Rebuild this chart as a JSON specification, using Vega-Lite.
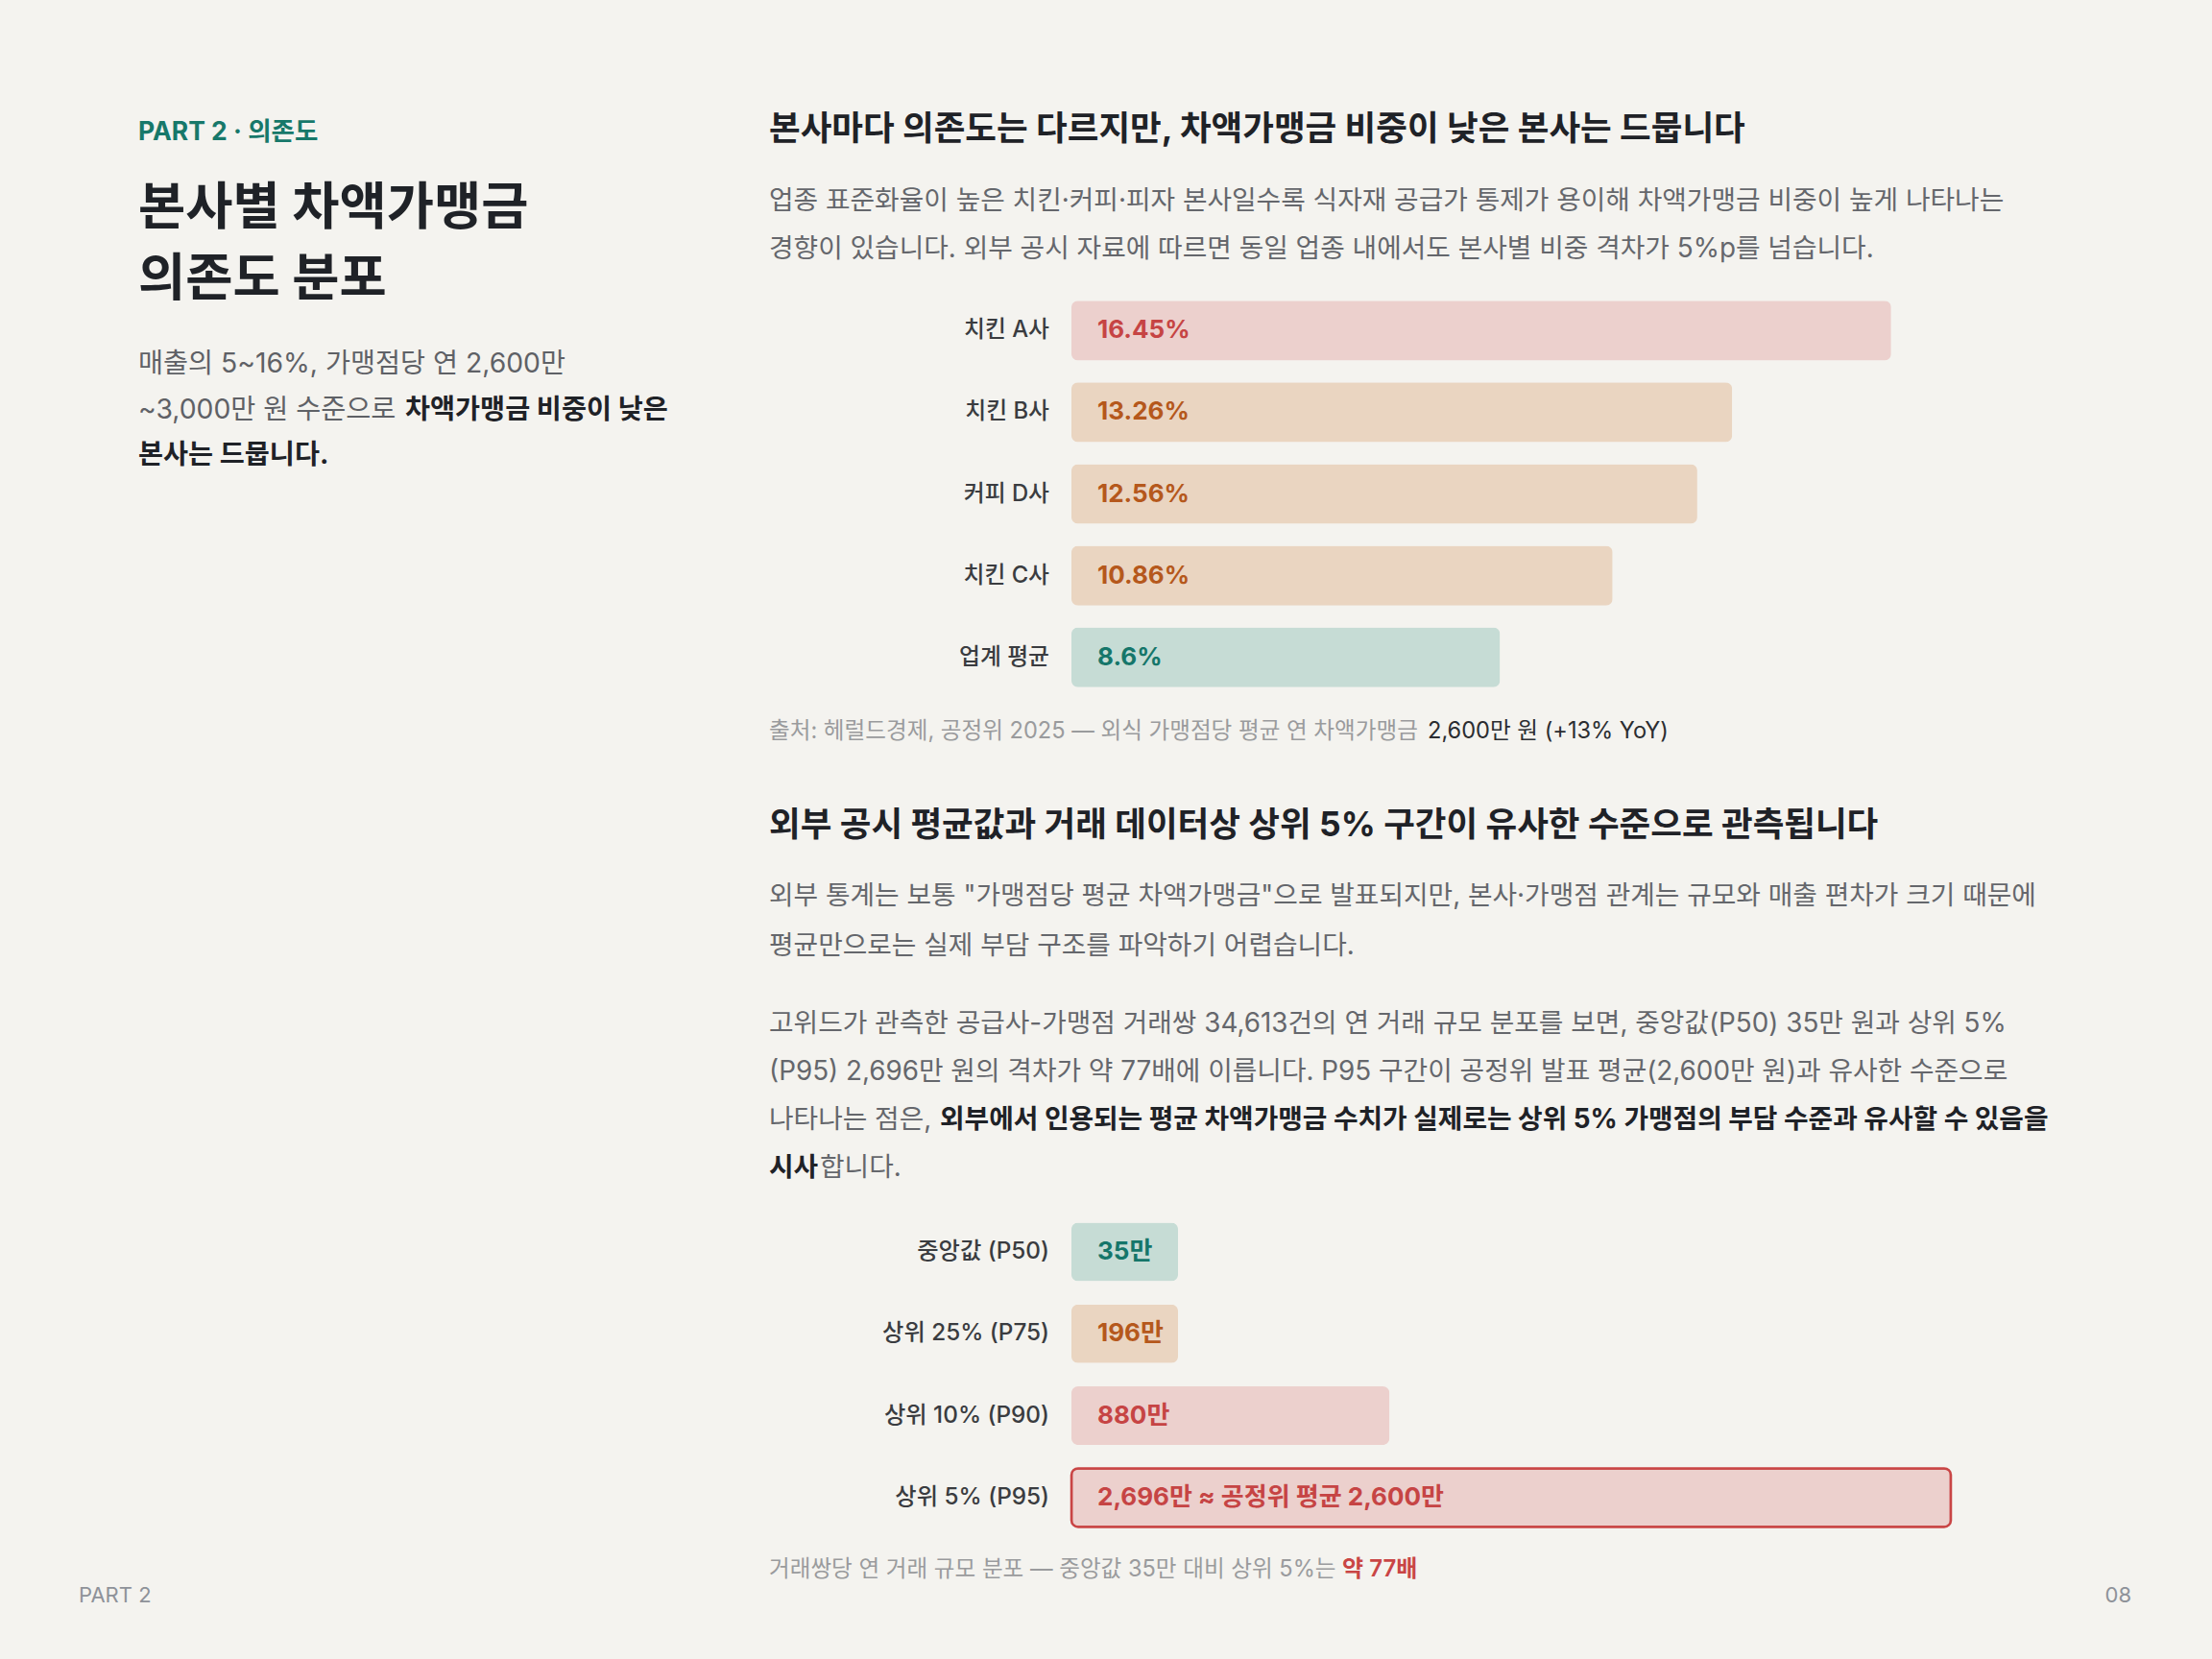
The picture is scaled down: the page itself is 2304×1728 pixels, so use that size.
{
  "$schema": "https://vega.github.io/schema/vega-lite/v6.json",
  "background": "#f4f3ef",
  "padding": 0,
  "spacing": 0,
  "bounds": "flush",
  "config": {"view": {"stroke": null}},
  "datasets": {
    "kicker": [{"line": 1, "text": "PART 2 · 의존도"}],
    "h1": [{"line": 1, "text": "본사마다 의존도는 다르지만, 차액가맹금 비중이 낮은 본사는 드뭅니다"}],
    "title": [{"line": 1, "text": "본사별 차액가맹금"}, {"line": 2, "text": "의존도 분포"}],
    "p1": [
      {"line": 1, "text": "업종 표준화율이 높은 치킨·커피·피자 본사일수록 식자재 공급가 통제가 용이해 차액가맹금 비중이 높게 나타나는"},
      {"line": 2, "text": "경향이 있습니다. 외부 공시 자료에 따르면 동일 업종 내에서도 본사별 비중 격차가 5%p를 넘습니다."}
    ],
    "lead": [
      {"line": 1, "part": "a", "text": "매출의 5~16%, 가맹점당 연 2,600만"},
      {"line": 2, "part": "a", "text": "~3,000만 원 수준으로"},
      {"line": 2, "part": "b", "text": "차액가맹금 비중이 낮은"},
      {"line": 3, "part": "c", "text": "본사는 드뭅니다."}
    ],
    "share": [
      {"name": "치킨 A사", "value": 16.45, "label": "16.45%", "group": "top"},
      {"name": "치킨 B사", "value": 13.26, "label": "13.26%", "group": "mid"},
      {"name": "커피 D사", "value": 12.56, "label": "12.56%", "group": "mid"},
      {"name": "치킨 C사", "value": 10.86, "label": "10.86%", "group": "mid"},
      {"name": "업계 평균", "value": 8.6, "label": "8.6%", "group": "base"}
    ],
    "cap1": [
      {"line": 1, "part": "a", "text": "출처: 헤럴드경제, 공정위 2025 — 외식 가맹점당 평균 연 차액가맹금"},
      {"line": 1, "part": "b", "text": "2,600만 원 (+13% YoY)"}
    ],
    "h2": [{"line": 1, "text": "외부 공시 평균값과 거래 데이터상 상위 5% 구간이 유사한 수준으로 관측됩니다"}],
    "p2": [
      {"line": 1, "text": "외부 통계는 보통 \"가맹점당 평균 차액가맹금\"으로 발표되지만, 본사·가맹점 관계는 규모와 매출 편차가 크기 때문에"},
      {"line": 2, "text": "평균만으로는 실제 부담 구조를 파악하기 어렵습니다."}
    ],
    "p3": [
      {"line": 1, "part": "a", "text": "고위드가 관측한 공급사-가맹점 거래쌍 34,613건의 연 거래 규모 분포를 보면, 중앙값(P50) 35만 원과 상위 5%"},
      {"line": 2, "part": "a", "text": "(P95) 2,696만 원의 격차가 약 77배에 이릅니다. P95 구간이 공정위 발표 평균(2,600만 원)과 유사한 수준으로"},
      {"line": 3, "part": "a", "text": "나타나는 점은,"},
      {"line": 3, "part": "b", "text": "외부에서 인용되는 평균 차액가맹금 수치가 실제로는 상위 5% 가맹점의 부담 수준과 유사할 수 있음을"},
      {"line": 4, "part": "c", "text": "시사"},
      {"line": 4, "part": "d", "text": "합니다."}
    ],
    "dist": [
      {"name": "중앙값 (P50)", "value": 35, "label": "35만", "group": "base"},
      {"name": "상위 25% (P75)", "value": 196, "label": "196만", "group": "mid"},
      {"name": "상위 10% (P90)", "value": 880, "label": "880만", "group": "top"},
      {"name": "상위 5% (P95)", "value": 2696, "label": "2,696만 ≈ 공정위 평균 2,600만", "group": "top"}
    ],
    "cap2": [
      {"line": 1, "part": "a", "text": "거래쌍당 연 거래 규모 분포 — 중앙값 35만 대비 상위 5%는"},
      {"line": 1, "part": "b", "text": "약 77배"}
    ],
    "footer": [{"line": 1, "side": "left", "text": "PART 2"}, {"line": 1, "side": "right", "text": "08"}]
  },
  "vconcat": [
    {
      "width": 2304, "height": 172,
      "resolve": {"scale": {"x": "independent", "y": "independent"}},
      "layer": [
        {
          "data": {"name": "kicker"},
          "mark": {"type": "text", "align": "left", "baseline": "middle", "font": "Inter, 'Noto Sans CJK KR', sans-serif", "fontSize": 26.5, "fontWeight": "bold", "color": "#17786a"},
          "encoding": {
            "text": {"field": "text"},
            "x": {"datum": 0, "type": "quantitative", "axis": null, "scale": {"domain": [0, 1], "range": [144, 760]}},
            "y": {"field": "line", "type": "ordinal", "axis": null, "scale": {"type": "point", "padding": 0.5, "align": 0.802}}
          }
        },
        {
          "data": {"name": "h1"},
          "mark": {"type": "text", "align": "left", "baseline": "middle", "font": "Inter, 'Noto Sans CJK KR', sans-serif", "fontSize": 35.5, "fontWeight": "bold", "color": "#1f2227"},
          "encoding": {
            "text": {"field": "text"},
            "x": {"datum": 0, "type": "quantitative", "axis": null, "scale": {"domain": [0, 1], "range": [801, 2200]}},
            "y": {"field": "line", "type": "ordinal", "axis": null, "scale": {"type": "point", "padding": 0.5, "align": 0.785}}
          }
        }
      ]
    },
    {
      "width": 2304, "height": 120,
      "resolve": {"scale": {"x": "independent", "y": "independent"}},
      "layer": [
        {
          "data": {"name": "title"},
          "mark": {"type": "text", "align": "left", "baseline": "middle", "font": "Inter, 'Noto Sans CJK KR', sans-serif", "fontSize": 53.5, "fontWeight": "bold", "color": "#1f2227"},
          "encoding": {
            "text": {"field": "text"},
            "x": {"datum": 0, "type": "quantitative", "axis": null, "scale": {"domain": [0, 1], "range": [144, 760]}},
            "y": {"field": "line", "type": "quantitative", "axis": null, "scale": {"domain": [1, 2], "range": [46, 120]}}
          }
        },
        {
          "data": {"name": "p1"},
          "mark": {"type": "text", "align": "left", "baseline": "middle", "font": "Inter, 'Noto Sans CJK KR', sans-serif", "fontSize": 27.8, "color": "#65676c"},
          "encoding": {
            "text": {"field": "text"},
            "x": {"datum": 0, "type": "quantitative", "axis": null, "scale": {"domain": [0, 1], "range": [801, 2200]}},
            "y": {"field": "line", "type": "ordinal", "axis": null, "scale": {"type": "point", "padding": 0.7, "align": 0.543}}
          }
        }
      ]
    },
    {
      "width": 2304, "height": 445,
      "resolve": {"scale": {"x": "independent", "y": "independent"}},
      "layer": [
        {
          "data": {"name": "share"},
          "encoding": {
            "y": {"field": "name", "type": "nominal", "sort": null, "axis": null, "scale": {"paddingInner": 0.27, "paddingOuter": 0.25, "align": 0.5}},
            "x": {"field": "value", "type": "quantitative", "axis": null, "scale": {"domain": [0, 20], "range": [1116, 2154], "zero": true}}
          },
          "layer": [
            {
              "mark": {"type": "bar", "cornerRadius": 7},
              "encoding": {
                "fill": {"field": "group", "type": "nominal", "legend": null, "scale": {"domain": ["top", "mid", "base"], "range": ["#ecd0cd", "#ead5c1", "#c6dcd5"]}}
              }
            },
            {
              "mark": {"type": "text", "align": "right", "baseline": "middle", "dx": -23, "font": "Inter, 'Noto Sans CJK KR', sans-serif", "fontSize": 23.8, "fontWeight": 500, "color": "#3a3c40"},
              "encoding": {"x": {"datum": 0, "type": "quantitative"}, "text": {"field": "name"}}
            },
            {
              "mark": {"type": "text", "align": "left", "baseline": "middle", "dx": 27, "font": "Inter, 'Noto Sans CJK KR', sans-serif", "fontSize": 26, "fontWeight": "bold"},
              "encoding": {
                "x": {"datum": 0, "type": "quantitative"},
                "text": {"field": "label"},
                "color": {"field": "group", "type": "nominal", "legend": null, "scale": {"domain": ["top", "mid", "base"], "range": ["#c64444", "#b5581c", "#15766a"]}}
              }
            }
          ]
        },
        {
          "data": {"name": "lead"},
          "encoding": {
            "x": {"datum": 0, "type": "quantitative", "axis": null, "scale": {"domain": [0, 1], "range": [144, 760]}},
            "y": {"field": "line", "type": "quantitative", "axis": null, "scale": {"domain": [1, 3], "range": [88, 183]}},
            "text": {"field": "text"}
          },
          "layer": [
            {
              "transform": [{"filter": "datum.part === 'a'"}],
              "mark": {"type": "text", "align": "left", "baseline": "middle", "font": "Inter, 'Noto Sans CJK KR', sans-serif", "fontSize": 28.3, "color": "#5f6166"}
            },
            {
              "transform": [{"filter": "datum.part === 'b'"}],
              "mark": {"type": "text", "align": "left", "baseline": "middle", "dx": 278, "font": "Inter, 'Noto Sans CJK KR', sans-serif", "fontSize": 28.3, "fontWeight": "bold", "color": "#1f2227"}
            },
            {
              "transform": [{"filter": "datum.part === 'c'"}],
              "mark": {"type": "text", "align": "left", "baseline": "middle", "font": "Inter, 'Noto Sans CJK KR', sans-serif", "fontSize": 28.3, "fontWeight": "bold", "color": "#1f2227"}
            }
          ]
        }
      ]
    },
    {
      "width": 2304, "height": 48,
      "data": {"name": "cap1"},
      "encoding": {
        "x": {"datum": 0, "type": "quantitative", "axis": null, "scale": {"domain": [0, 1], "range": [801, 2200]}},
        "y": {"field": "line", "type": "ordinal", "axis": null, "scale": {"type": "point", "padding": 0.5, "align": 0.53}},
        "text": {"field": "text"}
      },
      "layer": [
        {
          "transform": [{"filter": "datum.part === 'a'"}],
          "mark": {"type": "text", "align": "left", "baseline": "middle", "font": "Inter, 'Noto Sans CJK KR', sans-serif", "fontSize": 23.6, "color": "#9a9b9d"}
        },
        {
          "transform": [{"filter": "datum.part === 'b'"}],
          "mark": {"type": "text", "align": "left", "baseline": "middle", "dx": 686, "font": "Inter, 'Noto Sans CJK KR', sans-serif", "fontSize": 23.6, "color": "#2b2d31"}
        }
      ]
    },
    {
      "width": 2304, "height": 115,
      "data": {"name": "h2"},
      "mark": {"type": "text", "align": "left", "baseline": "middle", "font": "Inter, 'Noto Sans CJK KR', sans-serif", "fontSize": 35.5, "fontWeight": "bold", "color": "#1f2227"},
      "encoding": {
        "text": {"field": "text"},
        "x": {"datum": 0, "type": "quantitative", "axis": null, "scale": {"domain": [0, 1], "range": [801, 2200]}},
        "y": {"field": "line", "type": "ordinal", "axis": null, "scale": {"type": "point", "padding": 0.5, "align": 0.656}}
      }
    },
    {
      "width": 2304, "height": 110,
      "data": {"name": "p2"},
      "mark": {"type": "text", "align": "left", "baseline": "middle", "font": "Inter, 'Noto Sans CJK KR', sans-serif", "fontSize": 27.8, "color": "#65676c"},
      "encoding": {
        "text": {"field": "text"},
        "x": {"datum": 0, "type": "quantitative", "axis": null, "scale": {"domain": [0, 1], "range": [801, 2200]}},
        "y": {"field": "line", "type": "ordinal", "axis": null, "scale": {"type": "point", "padding": 0.5577, "align": 0.586}}
      }
    },
    {
      "width": 2304, "height": 240,
      "data": {"name": "p3"},
      "encoding": {
        "x": {"datum": 0, "type": "quantitative", "axis": null, "scale": {"domain": [0, 1], "range": [801, 2200]}},
        "y": {"field": "line", "type": "ordinal", "axis": null, "scale": {"type": "point", "padding": 0.9, "align": 0.633}},
        "text": {"field": "text"}
      },
      "layer": [
        {
          "transform": [{"filter": "datum.part === 'a'"}],
          "mark": {"type": "text", "align": "left", "baseline": "middle", "font": "Inter, 'Noto Sans CJK KR', sans-serif", "fontSize": 27.8, "color": "#65676c"}
        },
        {
          "transform": [{"filter": "datum.part === 'b'"}],
          "mark": {"type": "text", "align": "left", "baseline": "middle", "dx": 178, "font": "Inter, 'Noto Sans CJK KR', sans-serif", "fontSize": 27.8, "fontWeight": "bold", "color": "#1f2227"}
        },
        {
          "transform": [{"filter": "datum.part === 'c'"}],
          "mark": {"type": "text", "align": "left", "baseline": "middle", "font": "Inter, 'Noto Sans CJK KR', sans-serif", "fontSize": 27.8, "fontWeight": "bold", "color": "#1f2227"}
        },
        {
          "transform": [{"filter": "datum.part === 'd'"}],
          "mark": {"type": "text", "align": "left", "baseline": "middle", "dx": 53, "font": "Inter, 'Noto Sans CJK KR', sans-serif", "fontSize": 27.8, "color": "#65676c"}
        }
      ]
    },
    {
      "width": 2304, "height": 350,
      "data": {"name": "dist"},
      "encoding": {
        "y": {"field": "name", "type": "nominal", "sort": null, "axis": null, "scale": {"paddingInner": 0.285, "paddingOuter": 0.194, "align": 0.71}},
        "x": {"field": "value", "type": "quantitative", "axis": null, "scale": {"domain": [0, 10, 196, 2696], "range": [1116, 1227, 1227, 2032], "zero": true}}
      },
      "layer": [
        {
          "mark": {"type": "bar", "cornerRadius": 7, "strokeWidth": 2.5},
          "encoding": {
            "fill": {"field": "group", "type": "nominal", "legend": null, "scale": {"domain": ["top", "mid", "base"], "range": ["#ecd0cd", "#ead5c1", "#c6dcd5"]}},
            "stroke": {"condition": {"test": "datum.name === '상위 5% (P95)'", "value": "#c94545"}, "value": "transparent"}
          }
        },
        {
          "mark": {"type": "text", "align": "right", "baseline": "middle", "dx": -23, "font": "Inter, 'Noto Sans CJK KR', sans-serif", "fontSize": 24.3, "fontWeight": 500, "color": "#3a3c40"},
          "encoding": {"x": {"datum": 0, "type": "quantitative"}, "text": {"field": "name"}}
        },
        {
          "mark": {"type": "text", "align": "left", "baseline": "middle", "dx": 27, "font": "Inter, 'Noto Sans CJK KR', sans-serif", "fontSize": 26, "fontWeight": "bold"},
          "encoding": {
            "x": {"datum": 0, "type": "quantitative"},
            "text": {"field": "label"},
            "color": {"field": "group", "type": "nominal", "legend": null, "scale": {"domain": ["top", "mid", "base"], "range": ["#c64444", "#b5581c", "#15766a"]}}
          }
        }
      ]
    },
    {
      "width": 2304, "height": 50,
      "data": {"name": "cap2"},
      "encoding": {
        "x": {"datum": 0, "type": "quantitative", "axis": null, "scale": {"domain": [0, 1], "range": [801, 2200]}},
        "y": {"field": "line", "type": "ordinal", "axis": null, "scale": {"type": "point", "padding": 0.5, "align": 0.7}},
        "text": {"field": "text"}
      },
      "layer": [
        {
          "transform": [{"filter": "datum.part === 'a'"}],
          "mark": {"type": "text", "align": "left", "baseline": "middle", "font": "Inter, 'Noto Sans CJK KR', sans-serif", "fontSize": 23.6, "color": "#9a9b9d"}
        },
        {
          "transform": [{"filter": "datum.part === 'b'"}],
          "mark": {"type": "text", "align": "left", "baseline": "middle", "dx": 597, "font": "Inter, 'Noto Sans CJK KR', sans-serif", "fontSize": 24, "fontWeight": 600, "color": "#c94545"}
        }
      ]
    },
    {
      "width": 2304, "height": 78,
      "data": {"name": "footer"},
      "encoding": {
        "y": {"field": "line", "type": "ordinal", "axis": null, "scale": {"type": "point", "padding": 0.5, "align": 0.154}},
        "text": {"field": "text"}
      },
      "layer": [
        {
          "transform": [{"filter": "datum.side === 'left'"}],
          "mark": {"type": "text", "align": "left", "baseline": "middle", "font": "Inter, 'Noto Sans CJK KR', sans-serif", "fontSize": 22, "color": "#8e9299"},
          "encoding": {"x": {"datum": 0, "type": "quantitative", "axis": null, "scale": {"domain": [0, 1], "range": [82, 2220]}}}
        },
        {
          "transform": [{"filter": "datum.side === 'right'"}],
          "mark": {"type": "text", "align": "right", "baseline": "middle", "font": "Inter, 'Noto Sans CJK KR', sans-serif", "fontSize": 22, "color": "#8e9299"},
          "encoding": {"x": {"datum": 1, "type": "quantitative"}}
        }
      ]
    }
  ]
}
